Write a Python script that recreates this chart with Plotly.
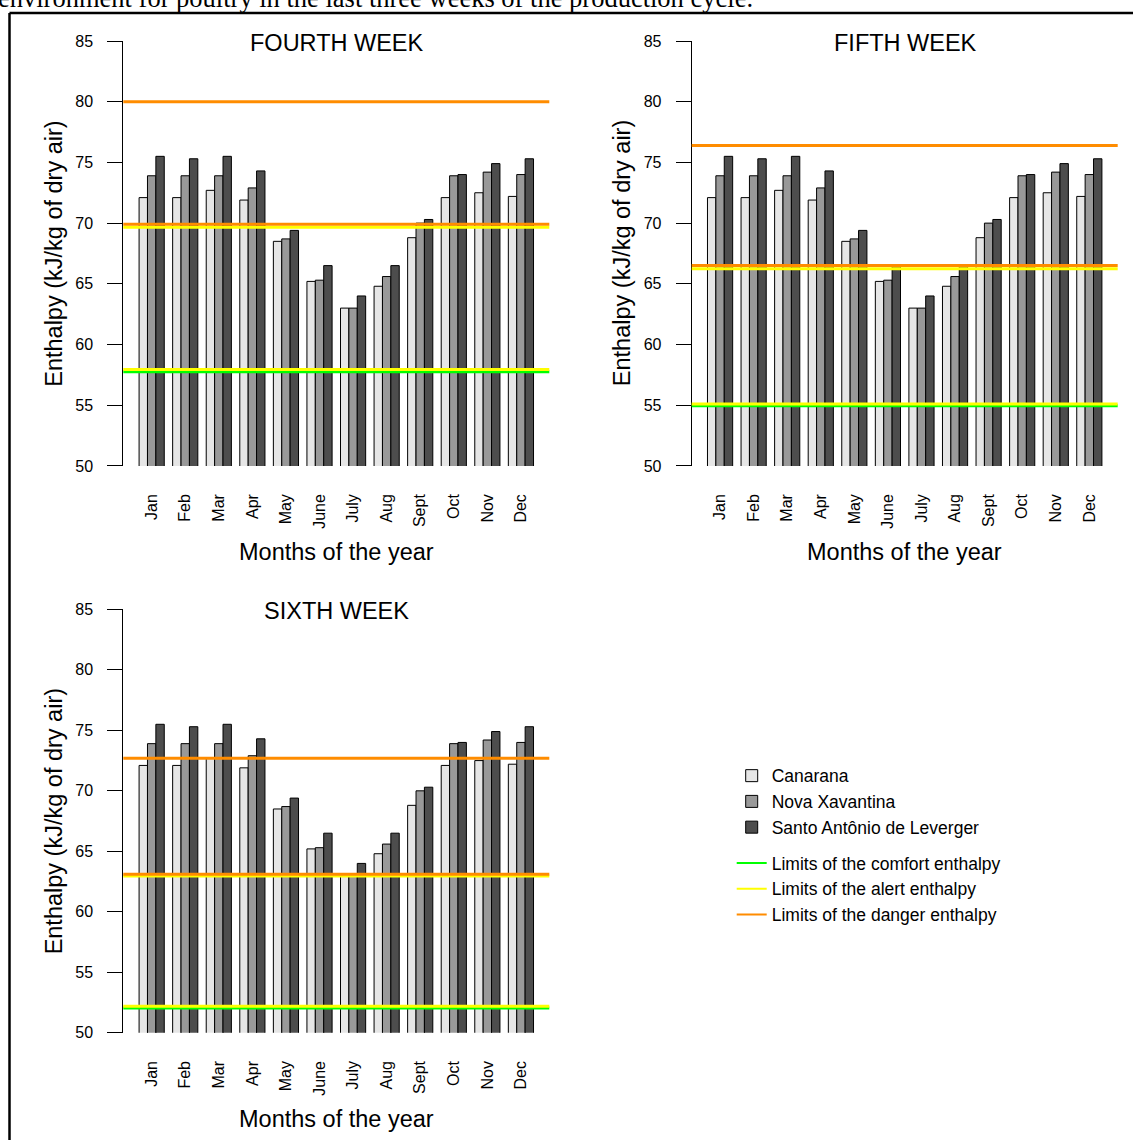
import plotly.graph_objects as go

# ---------------- data ----------------
months = ["Jan", "Feb", "Mar", "Apr", "May", "June", "July", "Aug", "Sept", "Oct", "Nov", "Dec"]
canarana = [72.1, 72.1, 72.7, 71.9, 68.5, 65.2, 63.0, 64.8, 68.8, 72.1, 72.5, 72.2]
nova_xavantina = [73.9, 73.9, 73.9, 72.9, 68.7, 65.3, 63.0, 65.6, 70.0, 73.9, 74.2, 74.0]
santo_antonio = [75.5, 75.3, 75.5, 74.3, 69.4, 66.5, 64.0, 66.5, 70.3, 74.0, 74.9, 75.3]

series_names = ["Canarana", "Nova Xavantina", "Santo Antônio de Leverger"]
panel_titles = ["FOURTH WEEK", "FIFTH WEEK", "SIXTH WEEK"]

# enthalpy limit lines per week (kJ/kg of dry air)
comfort_limits = [[57.75], [54.95], [52.05]]
alert_limits = [[57.95, 69.65], [55.1, 66.25], [52.2, 62.95]]
danger_limits = [[69.9, 80.0], [66.5, 76.4], [63.1, 72.7]]

limit_names = ["Limits of the comfort enthalpy", "Limits of the alert enthalpy",
               "Limits of the danger enthalpy"]

y_ticks = [50, 55, 60, 65, 70, 75, 80, 85]

# ---------------- styling ----------------
W, H = 1133, 1140
bar_colors = ["#e6e6e6", "#999999", "#4d4d4d"]
line_colors = ["#00ff00", "#ffff00", "#ff8c00"]
FONT = "Liberation Sans, Arial, sans-serif"

# vertical calibration of the rendering pipeline (offset, scale)
V_OFF, V_SC = 8.3, 0.985

def fx(p):
    return p / W

def fy(p):
    return 1 - ((p - V_OFF) / V_SC) / H

# panel boxes in pixels: left, right, top, bottom
boxes = [(123.3, 549.3, 41.3, 466.2),
         (691.7, 1117.7, 41.3, 466.2),
         (123.3, 549.3, 609.6, 1033.0)]

fig = go.Figure()

for i in range(3):
    xa = "x" if i == 0 else f"x{i+1}"
    ya = "y" if i == 0 else f"y{i+1}"
    for s, vals in enumerate([canarana, nova_xavantina, santo_antonio]):
        fig.add_trace(go.Bar(
            x=months, y=vals, name=series_names[s],
            marker=dict(color=bar_colors[s], line=dict(color="black", width=1)),
            base=0,
            xaxis=xa, yaxis=ya,
            legendgroup="bars", showlegend=(i == 0),
            hoverinfo="x+y+name",
        ))

# legend-only entries for the limit lines
for k in range(3):
    fig.add_trace(go.Scatter(
        x=[None], y=[None], mode="lines", name=limit_names[k],
        line=dict(color=line_colors[k], width=2),
        legendgroup="lines", showlegend=True, xaxis="x", yaxis="y",
    ))

layout = dict(
    width=W, height=H,
    margin=dict(l=0, r=0, t=0, b=0),
    paper_bgcolor="white", plot_bgcolor="white",
    barmode="group", bargap=0.25, bargroupgap=0,
    font=dict(family=FONT, color="black"),
    showlegend=True,
    legend=dict(
        x=fx(731.7), y=fy(758.0), xanchor="left", yanchor="top",
        font=dict(family=FONT, size=17.5, color="black"),
        bgcolor="rgba(0,0,0,0)", traceorder="grouped", tracegroupgap=10,
    ),
)

annotations = []
shapes = []
for i, (l, r, t, b) in enumerate(boxes):
    sx = "" if i == 0 else str(i + 1)
    layout["xaxis" + sx] = dict(
        domain=[fx(l), fx(r)], anchor="y" + sx,
        type="category", range=[-0.845, 11.845],
        showline=False, ticks="", showgrid=False, zeroline=False,
        tickangle=-90, tickfont=dict(family=FONT, size=16, color="black"),
        ticklabelstandoff=24, fixedrange=True,
    )
    layout["yaxis" + sx] = dict(
        domain=[fy(b), fy(t)], anchor="x" + sx,
        range=[50, 85], tickvals=y_ticks,
        showline=True, linecolor="black", linewidth=1,
        ticks="outside", ticklen=15, tickwidth=1, tickcolor="black",
        showgrid=False, zeroline=False,
        tickfont=dict(family=FONT, size=16, color="black"),
        ticklabelstandoff=11, fixedrange=True,
    )
    cx = (l + r) / 2
    annotations.append(dict(text=panel_titles[i], x=fx(cx + 0.5), y=fy(t + 2),
                            xref="paper", yref="paper", showarrow=False,
                            xanchor="center", yanchor="middle",
                            font=dict(family=FONT, size=23.5, color="black")))
    annotations.append(dict(text="Months of the year", x=fx(cx), y=fy(b + 86),
                            xref="paper", yref="paper", showarrow=False,
                            xanchor="center", yanchor="middle",
                            font=dict(family=FONT, size=23.5, color="black")))
    annotations.append(dict(text="Enthalpy (kJ/kg of dry air)", x=fx(l - 69), y=fy((t + b) / 2),
                            xref="paper", yref="paper", showarrow=False, textangle=-90,
                            xanchor="center", yanchor="middle",
                            font=dict(family=FONT, size=23.5, color="black")))
    # limit lines, comfort then alert then danger (danger on top)
    for k, lims in enumerate([comfort_limits[i], alert_limits[i], danger_limits[i]]):
        for v in lims:
            shapes.append(dict(type="line", xref=f"x{sx} domain", yref="y" + sx,
                               x0=0, x1=1, y0=v, y1=v, layer="above",
                               line=dict(color=line_colors[k], width=3)))

# caption fragment at the top (cut off by the page edge)
annotations.append(dict(
    text="environment for poultry in the last three weeks of the production cycle.",
    x=fx(-4), y=fy(-2), xref="paper", yref="paper", showarrow=False,
    xanchor="left", yanchor="middle",
    font=dict(family="Liberation Serif, Times New Roman, serif", size=26.5, color="black")))

# frame around the figure (left and top edges visible)
shapes.append(dict(type="line", xref="paper", yref="paper", x0=fx(9.5), x1=fx(9.5),
                   y0=fy(13.3), y1=fy(1160), line=dict(color="black", width=2.5)))
shapes.append(dict(type="line", xref="paper", yref="paper", x0=fx(9.5), x1=fx(1140),
                   y0=fy(13.3), y1=fy(13.3), line=dict(color="black", width=2.5)))

layout["annotations"] = annotations
layout["shapes"] = shapes
fig.update_layout(**layout)

fig.write_html("out.html", config={"displayModeBar": False},
               post_script="document.body.style.margin='0';document.body.style.overflow='hidden';")
